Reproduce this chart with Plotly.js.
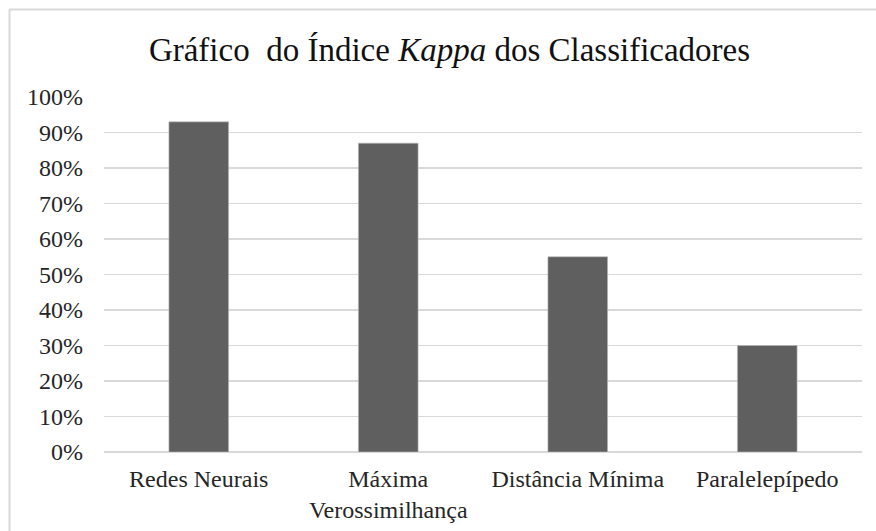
<!DOCTYPE html>
<html>
<head>
<meta charset="utf-8">
<script src="https://cdn.plot.ly/plotly-3.0.1.min.js"></script>
<style>
  html, body { margin: 0; padding: 0; background: #fff; }
  #chart { width: 876px; height: 531px; }
</style>
</head>
<body>
<div id="chart"></div>
<script>
const categories = ['Redes Neurais', 'Máxima<br>Verossimilhança', 'Distância Mínima', 'Paralelepípedo'];
const kappaValues = [0.93, 0.87, 0.55, 0.30];
const chartTitle = 'Gráfico\u00A0 do Índice <i>Kappa</i> dos Classificadores';

const serif = 'Liberation Serif';

const trace = {
  type: 'bar',
  x: categories,
  y: kappaValues,
  marker: { color: '#5f5f5f', line: { color: '#bdbdbd', width: 0.6 } },
  hoverinfo: 'x+y'
};

const layout = {
  width: 876,
  height: 531,
  paper_bgcolor: '#ffffff',
  plot_bgcolor: '#ffffff',
  font: { family: serif },
  margin: { l: 104, r: 14, t: 97, b: 79 },
  showlegend: false,
  bargap: 0.685,
  title: {
    text: chartTitle,
    font: { family: serif, size: 33, color: '#111111' },
    xref: 'container', x: 449.5 / 876, xanchor: 'center',
    yref: 'container', y: 1 - 49 / 531, yanchor: 'middle'
  },
  xaxis: {
    type: 'category',
    showgrid: false,
    showline: false,
    zeroline: false,
    ticks: '',
    tickfont: { family: serif, size: 24, color: '#262626' },
    ticklabelstandoff: 10,
    fixedrange: true
  },
  yaxis: {
    range: [0, 1],
    dtick: 0.1,
    tick0: 0,
    tickformat: '.0%',
    showgrid: true,
    gridcolor: '#d9d9d9',
    gridwidth: 1.5,
    zeroline: true,
    zerolinecolor: '#d9d9d9',
    zerolinewidth: 1.5,
    showline: false,
    ticks: '',
    tickfont: { family: serif, size: 24, color: '#262626' },
    ticklabelstandoff: 20,
    fixedrange: true
  },
  shapes: [
    { type: 'line', xref: 'paper', yref: 'paper', x0: (9.5 - 104) / 758, x1: 1.2, y0: (452 - 9.5) / 355, y1: (452 - 9.5) / 355,
      line: { color: '#d9d9d9', width: 2 } },
    { type: 'line', xref: 'paper', yref: 'paper', x0: (9.5 - 104) / 758, x1: (9.5 - 104) / 758, y0: (452 - 9.5) / 355, y1: -0.4,
      line: { color: '#d9d9d9', width: 2 } }
  ]
};

Plotly.newPlot('chart', [trace], layout, { displayModeBar: false, staticPlot: true });
</script>
</body>
</html>
